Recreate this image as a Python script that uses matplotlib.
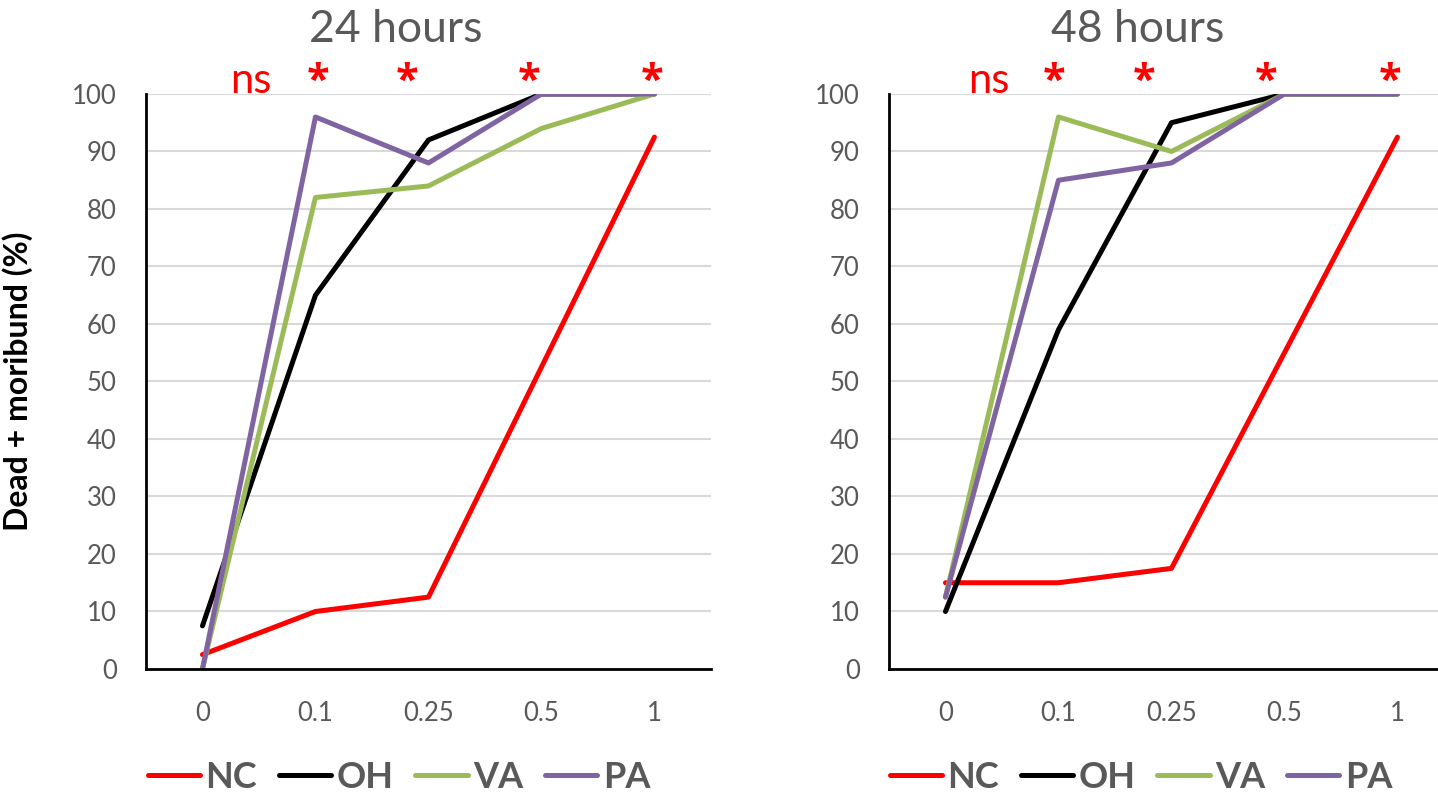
import matplotlib
matplotlib.use("Agg")
import matplotlib.pyplot as plt

plt.rcParams['font.family'] = ['Lato', 'DejaVu Sans']

# data
doses = ['0', '0.1', '0.25', '0.5', '1']
series = ['NC', 'OH', 'VA', 'PA']
colors = ['#FF0000', '#000000', '#9BBB59', '#8064A2']

nc_24 = [2.5, 10, 12.5, 52.5, 92.5]
oh_24 = [7.5, 65, 92, 100, 100]
va_24 = [0, 82, 84, 94, 100]
pa_24 = [0, 96, 88, 100, 100]

nc_48 = [15, 15, 17.5, 55, 92.5]
oh_48 = [10, 59, 95, 100, 100]
va_48 = [12.5, 96, 90, 100, 100]
pa_48 = [12.5, 85, 88, 100, 100]

titles = ['24 hours', '48 hours']
sig_labels = ['ns', '*', '*', '*', '*']

# manual placement of significance marks (x in category units)
sig_x_24 = [0.43, 1.02, 1.81, 2.89, 3.98]
sig_x_48 = [0.38, 0.96, 1.76, 2.84, 3.93]

gray = '#595959'

fig = plt.figure(figsize=(14.38, 7.95), dpi=100)
ax1 = fig.add_axes([0.1015, 0.1585, 0.3929, 0.7233])
ax2 = fig.add_axes([0.6182, 0.1585, 0.3929, 0.7233])

panels = [
    (ax1, [nc_24, oh_24, va_24, pa_24], sig_x_24, titles[0], 0.2755, 0.2775),
    (ax2, [nc_48, oh_48, va_48, pa_48], sig_x_48, titles[1], 0.7915, 0.7935),
]

for ax, data, sig_x, title, cx, lx in panels:
    xs = range(len(doses))
    handles = []
    for vals, name, c in zip(data, series, colors):
        h, = ax.plot(xs, vals, color=c, lw=3.6, label=name,
                     solid_capstyle='round', solid_joinstyle='round', zorder=3)
        handles.append(h)
    ax.set_xlim(-0.5, 4.5)
    ax.set_ylim(0, 100)
    ax.set_yticks(range(0, 101, 10))
    ax.set_xticks(list(xs))
    ax.set_xticklabels(doses)
    ax.tick_params(length=0, labelsize=18.5, labelcolor=gray)
    ax.tick_params(axis='y', pad=21)
    ax.tick_params(axis='x', pad=23)
    ax.grid(axis='y', color='#D9D9D9', lw=1.5, zorder=0)
    ax.set_axisbelow(True)
    for s in ['top', 'right']:
        ax.spines[s].set_visible(False)
    for s in ['left', 'bottom']:
        ax.spines[s].set_linewidth(2)
        ax.spines[s].set_zorder(4)

    for lab, x in zip(sig_labels, sig_x):
        if lab == 'ns':
            ax.text(x, 102.2, lab, color='#FF0000', fontsize=30,
                    ha='center', va='center', clip_on=False)
        else:
            ax.text(x, 102.0, lab, color='#FF0000', fontsize=30, fontweight='bold',
                    family='Open Sans', ha='center', va='center', clip_on=False)

    fig.text(cx, 0.963, title, color=gray, fontsize=32, ha='center', va='center')

    leg = fig.legend(handles=handles, loc='center', bbox_to_anchor=(lx, 0.022),
                     ncol=4, frameon=False, handlelength=1.45, handletextpad=0.15,
                     columnspacing=0.6, prop={'size': 26, 'weight': 'bold'})
    for t in leg.get_texts():
        t.set_color(gray)

ax1.set_ylabel('Dead + moribund (%)', fontsize=23, fontweight='bold')
ax1.yaxis.set_label_coords(-0.2, 0.5)

fig.savefig('out.png', dpi=100)
